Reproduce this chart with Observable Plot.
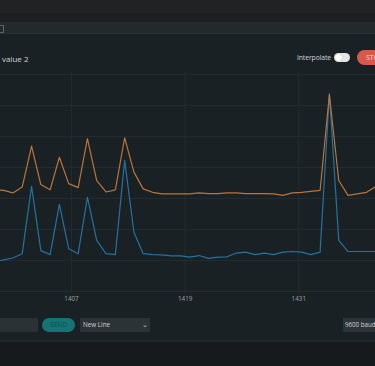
<!DOCTYPE html>
<html>
<head>
<meta charset="utf-8">
<script src="https://cdn.jsdelivr.net/npm/d3@7"></script>
<script src="https://cdn.jsdelivr.net/npm/@observablehq/plot@0.6"></script>
<style>
  html, body { margin: 0; padding: 0; }
  body { width: 375px; height: 366px; overflow: hidden; background: #161a1c; font-family: "Open Sans", sans-serif; position: relative; }
  .abs { position: absolute; }
  #topbar1 { left: 0; top: 0; width: 375px; height: 13px; background: #202224; }
  #topbar2 { left: 0; top: 13px; width: 375px; height: 9px; background: #1c1e20; }
  #toolbar { left: 0; top: 22px; width: 375px; height: 11px; background: #24292c; }
  #toolicon { left: -2px; top: 25px; width: 4px; height: 6px; border: 1px solid #5a6266; }
  #toolline { left: 0; top: 33px; width: 375px; height: 1px; background: #2a3034; }
  #main { left: 0; top: 34px; width: 375px; height: 306px; background: #1a2125; }
  #legend { left: 2px; top: 53px; color: #d0d4d6; font-size: 8px; }
  #interp { left: 297px; top: 53px; color: #d0d4d6; font-size: 6.8px; letter-spacing: -0.1px; }
  #toggle { left: 334px; top: 53px; width: 16px; height: 9px; border-radius: 5px; background: #e2e4e6; }
  #knob { left: 335px; top: 54px; width: 7px; height: 7px; border-radius: 4px; background: #ffffff; box-shadow: 0 0 1px #888; }
  #stop { left: 357px; top: 50px; width: 18px; height: 15px; border-radius: 8px 0 0 8px; background: #d9584b; color: #f6d2cc; font-size: 7px; line-height: 15px; padding-left: 9px; box-sizing: border-box; overflow: hidden; white-space: nowrap; }
  #chart { left: 0; top: 66px; }
  #input { left: -4px; top: 318px; width: 42px; height: 14px; background: #2b3236; border-radius: 2px; }
  #send { left: 42px; top: 318px; width: 33px; height: 14px; border-radius: 7px; background: #157473; color: #0d4f4f; font-size: 6.5px; line-height: 14px; text-align: center; }
  #newline { left: 80px; top: 318px; width: 70px; height: 14px; background: #2b3337; color: #d0d4d6; font-size: 6.3px; line-height: 14px; padding-left: 3px; box-sizing: border-box; border-radius: 1px; }
  #chev { left: 142px; top: 320px; color: #c8ccce; font-size: 7px; }
  #baud { left: 343px; top: 318px; width: 32px; height: 14px; background: #2b3337; color: #d0d4d6; font-size: 6.2px; line-height: 14px; padding-left: 2px; box-sizing: border-box; overflow: hidden; white-space: nowrap; }
  #bottomline { left: 0; top: 340px; width: 375px; height: 2px; background: #1f2528; }
</style>
</head>
<body>
<div class="abs" id="topbar1"></div>
<div class="abs" id="topbar2"></div>
<div class="abs" id="toolbar"></div>
<div class="abs" id="toolicon"></div>
<div class="abs" id="toolline"></div>
<div class="abs" id="main"></div>
<div class="abs" id="legend">value 2</div>
<div class="abs" id="interp">Interpolate</div>
<div class="abs" id="toggle"></div>
<div class="abs" id="knob"></div>
<div class="abs" id="stop">STOP</div>
<div class="abs" id="chart"></div>
<div class="abs" id="input"></div>
<div class="abs" id="send">SEND</div>
<div class="abs" id="newline">New Line</div>
<div class="abs" id="chev">&#8964;</div>
<div class="abs" id="baud">9600 baud</div>
<div class="abs" id="bottomline"></div>
<script>
// Sample positions (in x-axis units) and values
const samples = [1398.85, 1399.83, 1400.81, 1401.79, 1402.78, 1403.76, 1404.74, 1405.72, 1406.70, 1407.70,
  1408.68, 1409.66, 1410.64, 1411.63, 1412.61, 1413.59, 1414.57, 1415.55, 1416.54, 1417.53,
  1418.51, 1419.49, 1420.47, 1421.46, 1422.44, 1423.42, 1424.40, 1425.38, 1426.37, 1427.36,
  1428.34, 1429.32, 1430.31, 1431.29, 1432.27, 1433.25, 1434.23, 1435.22, 1436.20, 1437.18,
  1438.16, 1439.14, 1440.13];
const value1 = [9.7, 10.2, 10.8, 12.2, 33.9, 13.2, 11.9, 28.1, 13.8, 12.2,
  30.4, 16.5, 12.2, 11.9, 42.3, 19.1, 12.2, 11.9, 11.8, 11.5,
  11.5, 11.1, 11.6, 10.7, 11.1, 11.2, 12.4, 12.7, 11.9, 12.4,
  11.9, 12.7, 12.9, 12.7, 11.9, 12.7, 63.8, 16.5, 12.9, 12.9,
  12.9, 12.9, 12.9];
const value2 = [32.9, 32.6, 31.8, 33.7, 46.9, 34.5, 32.8, 43.3, 34.8, 33.5,
  49.3, 35.8, 32.1, 32.8, 49.6, 38.5, 33.1, 32.0, 31.5, 31.5,
  31.5, 31.5, 31.8, 31.6, 31.6, 31.8, 31.8, 31.6, 31.6, 31.6,
  31.5, 31.0, 31.8, 32.0, 32.3, 32.6, 63.5, 35.8, 31.0, 31.5,
  32.0, 33.9, 34.8];
const xTicks = [1407, 1419, 1431];
const yGrid = [0, 10, 20, 30, 40, 50, 60, 70];
const seriesNames = ["value 1", "value 2"];
const seriesColors = ["#23729f", "#b9743a"];

const rows = [];
samples.forEach((s, i) => {
  rows.push({x: s, y: value1[i], series: seriesNames[0]});
  rows.push({x: s, y: value2[i], series: seriesNames[1]});
});

const chart = Plot.plot({
  width: 375,
  height: 246,
  marginTop: 6,
  marginBottom: 20,
  marginLeft: 0,
  marginRight: 0,
  style: {background: "transparent", color: "#9aa2a6", fontSize: "6.3px", fontFamily: "Open Sans"},
  x: {domain: [1399.50, 1439.10], label: null},
  y: {domain: [0, 70], range: [225, 8], label: null, axis: null},
  color: {domain: seriesNames, range: seriesColors},
  marks: [
    Plot.ruleY(yGrid, {stroke: "#222b30", strokeWidth: 1}),
    Plot.gridX(xTicks, {stroke: "#232c31", strokeOpacity: 1, strokeWidth: 1}),
    Plot.axisX(xTicks, {tickSize: 0, tickPadding: 4, tickFormat: d => String(d), fill: "#9aa2a6"}),
    Plot.line(rows, {x: "x", y: "y", z: "series", stroke: "series", strokeWidth: 1.2, clip: true})
  ]
});
document.getElementById("chart").appendChild(chart);
</script>
</body>
</html>
